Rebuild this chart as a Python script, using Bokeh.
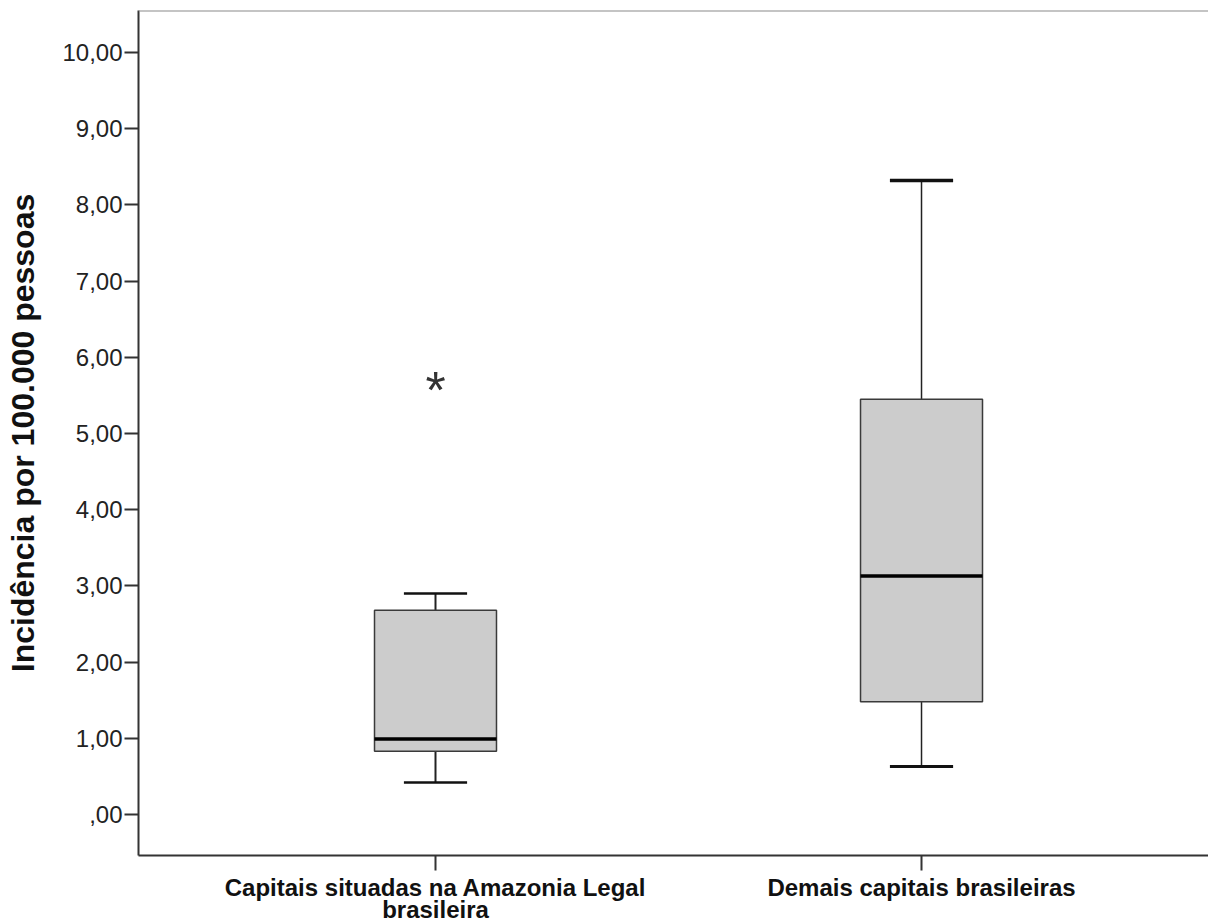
from bokeh.plotting import figure
from bokeh.models import Span, FixedTicker, Range1d
from bokeh.embed import file_html
from bokeh.resources import INLINE
from bokeh.core.properties import value

# ---- data ----
categories = ["Capitais situadas na Amazonia Legal\nbrasileira", "Demais capitais brasileiras"]
positions = [1, 2]
lower_whisker = [0.42, 0.63]
q1 = [0.83, 1.48]
median = [0.99, 3.13]
q3 = [2.68, 5.45]
upper_whisker = [2.90, 8.32]
outlier_pos = [1]
outlier_val = [5.65]
y_ticks = [0, 1, 2, 3, 4, 5, 6, 7, 8, 9, 10]
y_tick_labels = [",00", "1,00", "2,00", "3,00", "4,00", "5,00", "6,00", "7,00", "8,00", "9,00", "10,00"]
y_title = "Incidência por 100.000 pessoas"

# ---- styles ----
FONT = "Liberation Sans"
BOX_W = 0.251
CAP_W = 0.13
DARK = "#333333"

p = figure(
    frame_width=1070, frame_height=845,
    min_border_left=138, min_border_right=0, min_border_top=10, min_border_bottom=60,
    x_range=Range1d(0.3889, 2.5905), y_range=Range1d(-0.538, 10.551),
    output_backend="svg", toolbar_location=None, tools="",
)
p.outline_line_color = None
p.xgrid.visible = False
p.ygrid.visible = False
p.background_fill_color = "white"
p.border_fill_color = "white"

# top border line
p.add_layout(Span(location=p.y_range.end, dimension="width", line_color="#8a8a8a", line_width=2))

# whiskers
for i, x in enumerate(positions):
    p.segment(x0=[x], y0=[q3[i]], x1=[x], y1=[upper_whisker[i]], line_color="#222222", line_width=2 if i == 0 else 1.5)
    p.segment(x0=[x], y0=[lower_whisker[i]], x1=[x], y1=[q1[i]], line_color="#222222", line_width=2 if i == 0 else 1.5)
    p.segment(x0=[x - CAP_W / 2], y0=[upper_whisker[i]], x1=[x + CAP_W / 2], y1=[upper_whisker[i]], line_color="#111111", line_width=2.5 if i == 0 else 3.5)
    p.segment(x0=[x - CAP_W / 2], y0=[lower_whisker[i]], x1=[x + CAP_W / 2], y1=[lower_whisker[i]], line_color="#111111", line_width=2.5 if i == 0 else 3)

# boxes
p.vbar(x=positions, width=BOX_W, bottom=q1, top=q3, fill_color="#cccccc", line_color="#3a3a3a", line_width=1.5)

# medians
p.segment(x0=[x - BOX_W / 2 for x in positions], y0=median, x1=[x + BOX_W / 2 for x in positions], y1=median,
          line_color="black", line_width=3.5)

# outlier
p.text(x=outlier_pos, y=outlier_val, text=["*"], text_font=value(FONT), text_font_size="52px",
       text_align="center", text_baseline="middle", y_offset=6, text_color="#333333")

# y axis
p.yaxis.ticker = FixedTicker(ticks=y_ticks)
p.yaxis.major_label_overrides = {t: l for t, l in zip(y_ticks, y_tick_labels)}
p.yaxis.minor_tick_line_color = None
p.yaxis.major_tick_in = 0
p.yaxis.major_tick_out = 14
p.yaxis.major_tick_line_width = 2
p.yaxis.major_tick_line_color = DARK
p.yaxis.axis_line_color = DARK
p.yaxis.axis_line_width = 2
p.yaxis.major_label_text_font = FONT
p.yaxis.major_label_text_font_size = "24px"
p.yaxis.major_label_text_color = "#222222"
p.yaxis.major_label_standoff = 2
p.yaxis.axis_label = y_title
p.yaxis.axis_label_text_font = FONT
p.yaxis.axis_label_text_font_style = "bold"
p.yaxis.axis_label_text_font_size = "32px"
p.yaxis.axis_label_text_color = "#111111"
p.yaxis.axis_label_standoff = 18

# x axis
p.xaxis.ticker = FixedTicker(ticks=positions)
p.xaxis.major_label_overrides = {x: lab for x, lab in zip(positions, categories)}
p.xaxis.major_label_text_font = FONT
p.xaxis.major_label_text_font_style = "bold"
p.xaxis.major_label_text_font_size = "24px"
p.xaxis.major_label_text_color = "#111111"
p.xaxis.major_label_text_line_height = 0.85
p.xaxis.major_label_standoff = 3
p.xaxis.minor_tick_line_color = None
p.xaxis.major_tick_in = 0
p.xaxis.major_tick_out = 15
p.xaxis.major_tick_line_width = 2
p.xaxis.major_tick_line_color = DARK
p.xaxis.axis_line_color = DARK
p.xaxis.axis_line_width = 2

open("out.html", "w").write(file_html(p, INLINE))
